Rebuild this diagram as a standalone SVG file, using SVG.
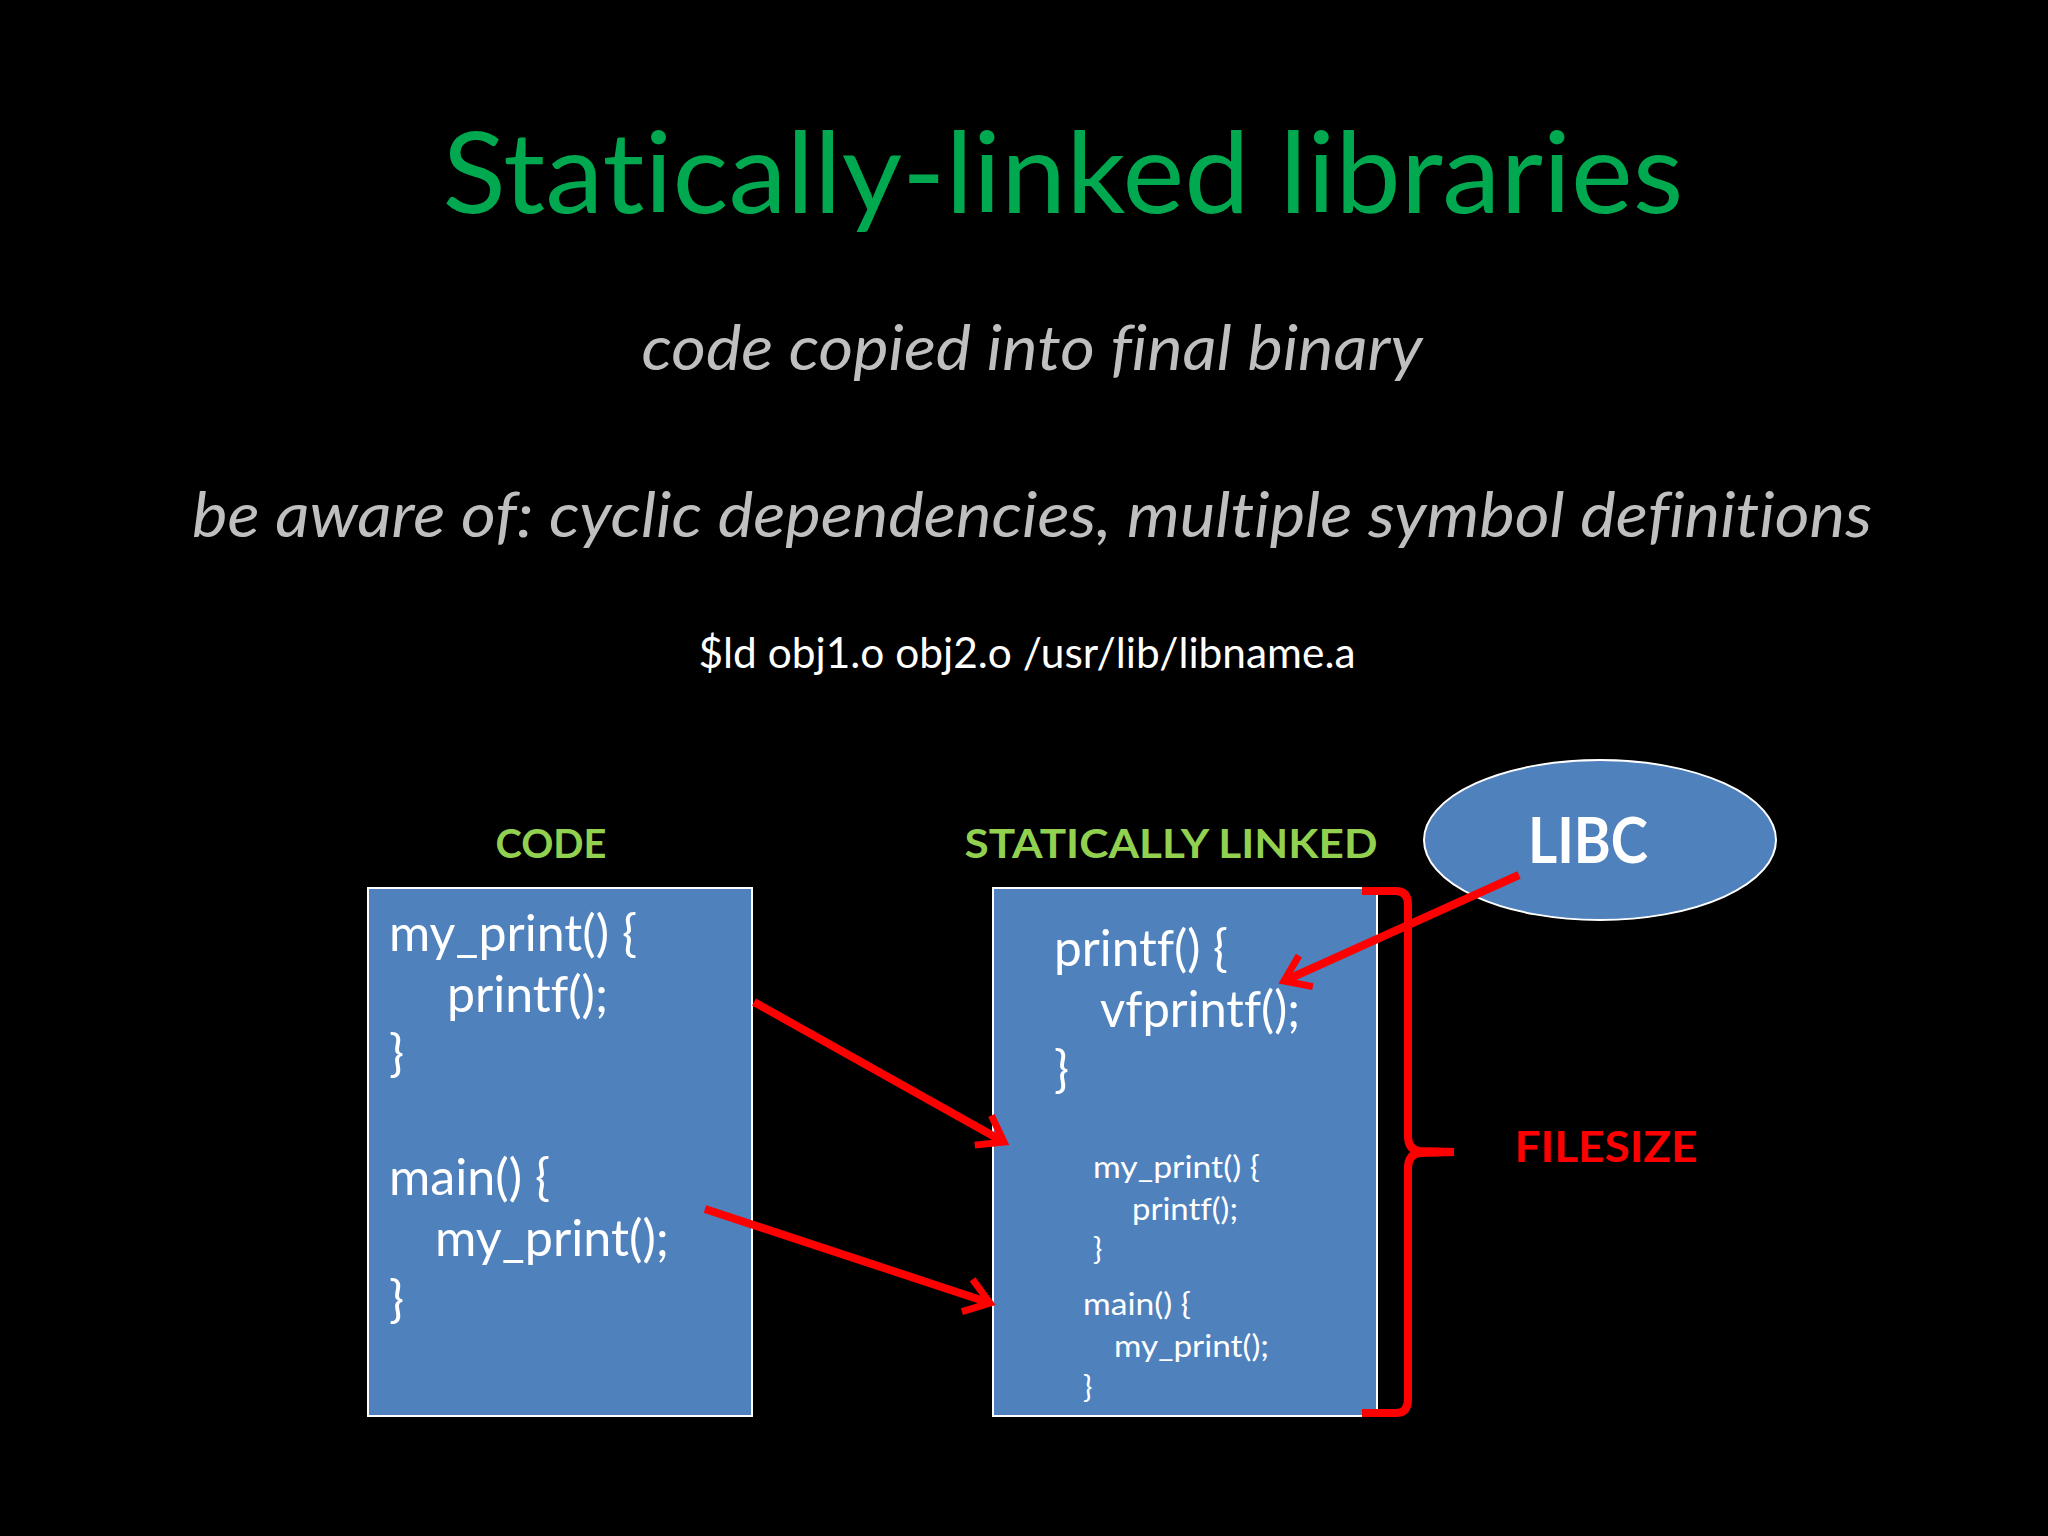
<svg xmlns="http://www.w3.org/2000/svg" width="2048" height="1536" viewBox="0 0 2048 1536">
<defs>
<style>
.f{font-family:Lato,"Open Sans","Liberation Sans",sans-serif;font-variant-ligatures:none;font-feature-settings:"liga" 0,"clig" 0,"dlig" 0,"calt" 0}
.title{fill:#00A84F;font-size:112px}
.sub{fill:#BFBFBF;font-size:62px;font-style:italic}
.cmd{fill:#FFFFFF;font-size:42px}
.hdr{fill:#92D050;font-size:40px;font-weight:bold}
.code{fill:#FFFFFF;font-size:50px}
.small{fill:#FFFFFF;font-size:31px}
.box{fill:#4F81BD;stroke:#FFFFFF;stroke-width:2}
.red{fill:none;stroke:#FF0000;stroke-width:8;stroke-linecap:butt}
</style>
<marker id="ah" markerUnits="userSpaceOnUse" markerWidth="50" markerHeight="50" refX="34" refY="20" orient="auto" viewBox="0 0 50 40">
<path d="M10,3 L34,20 L10,37" fill="none" stroke="#FF0000" stroke-width="7"/>
</marker>
</defs>
<rect x="0" y="0" width="2048" height="1536" fill="#000000"/>
<g id="texts" class="f">
<text class="title" x="1063" y="213" text-anchor="middle" textLength="1241" lengthAdjust="spacingAndGlyphs">Statically-linked libraries</text>
<text class="sub" x="1032" y="370" text-anchor="middle" textLength="781" lengthAdjust="spacingAndGlyphs">code copied into final binary</text>
<text class="sub" x="1032" y="537" text-anchor="middle" textLength="1680" lengthAdjust="spacingAndGlyphs">be aware of: cyclic dependencies, multiple symbol definitions</text>
<text class="cmd" x="1027" y="668" text-anchor="middle" textLength="657" lengthAdjust="spacingAndGlyphs">$ld obj1.o obj2.o /usr/lib/libname.a</text>
<text class="hdr" x="551" y="858" text-anchor="middle" textLength="111" lengthAdjust="spacingAndGlyphs">CODE</text>
<text class="hdr" x="1171" y="858" text-anchor="middle" textLength="413" lengthAdjust="spacingAndGlyphs">STATICALLY LINKED</text>
<text x="1606" y="1162" text-anchor="middle" fill="#FF0000" font-size="42" font-weight="bold" textLength="183" lengthAdjust="spacingAndGlyphs">FILESIZE</text>
</g>
<g id="code-box" class="f">
<rect class="box" x="368" y="888" width="384" height="528"/>
<text class="code" x="389" y="951" textLength="248" lengthAdjust="spacingAndGlyphs">my_print() {</text>
<text class="code" x="447" y="1012" textLength="161" lengthAdjust="spacingAndGlyphs">printf();</text>
<text class="code" x="389" y="1071">}</text>
<text class="code" x="389" y="1195" textLength="161" lengthAdjust="spacingAndGlyphs">main() {</text>
<text class="code" x="435" y="1256" textLength="234" lengthAdjust="spacingAndGlyphs">my_print();</text>
<text class="code" x="389" y="1317">}</text>
</g>
<g id="linked-box" class="f">
<rect class="box" x="993" y="888" width="384" height="528"/>
<text class="code" x="1054" y="966" textLength="174" lengthAdjust="spacingAndGlyphs">printf() {</text>
<text class="code" x="1100" y="1027" textLength="200" lengthAdjust="spacingAndGlyphs">vfprintf();</text>
<text class="code" x="1054" y="1087">}</text>
<text class="small" x="1093" y="1178" textLength="167" lengthAdjust="spacingAndGlyphs">my_print() {</text>
<text class="small" x="1132" y="1220" textLength="106" lengthAdjust="spacingAndGlyphs">printf();</text>
<text class="small" x="1093" y="1260">}</text>
<text class="small" x="1083" y="1315" textLength="108" lengthAdjust="spacingAndGlyphs">main() {</text>
<text class="small" x="1114" y="1357" textLength="155" lengthAdjust="spacingAndGlyphs">my_print();</text>
<text class="small" x="1083" y="1398">}</text>
</g>
<g id="libc">
<ellipse cx="1600" cy="840" rx="176" ry="80" fill="#4F81BD" stroke="#FFFFFF" stroke-width="2"/>
<text class="f" x="1588" y="863" text-anchor="middle" fill="#FFFFFF" font-size="64" font-weight="bold" textLength="120" lengthAdjust="spacingAndGlyphs">LIBC</text>
</g>
<g id="connectors">
<line class="red" x1="754" y1="1002" x2="1004" y2="1142" marker-end="url(#ah)"/>
<line class="red" x1="705" y1="1209" x2="990" y2="1303" marker-end="url(#ah)"/>
<line class="red" x1="1519" y1="875" x2="1284" y2="981" marker-end="url(#ah)"/>
<path class="red" d="M1362,891 L1396,891 Q1408,891 1408,905 L1408,1136 Q1408,1150 1420,1151 L1454,1152 M1454,1152 L1420,1153 Q1408,1154 1408,1168 L1408,1399 Q1408,1413 1396,1413 L1362,1413"/>
</g>
</svg>
